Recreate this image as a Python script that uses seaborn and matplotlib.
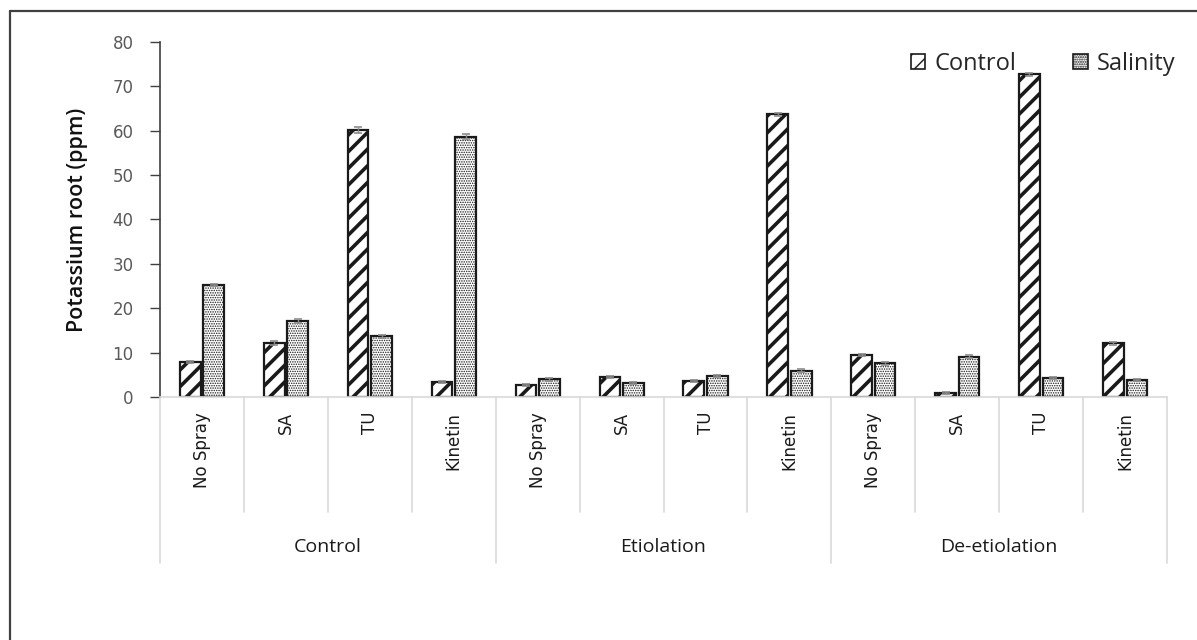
import numpy as np
import pandas as pd
import matplotlib
matplotlib.use('Agg')
import matplotlib.pyplot as plt
from matplotlib.patches import Patch
from matplotlib.lines import Line2D
import seaborn as sns

# data
groups = ['Control', 'Etiolation', 'De-etiolation']
treatments = ['No Spray', 'SA', 'TU', 'Kinetin']
control_vals = [7.9, 12.2, 60.2, 3.4, 2.7, 4.5, 3.6, 63.7, 9.5, 0.9, 72.7, 12.1]
salinity_vals = [25.2, 17.1, 13.7, 58.7, 4.0, 3.1, 4.7, 5.9, 7.6, 9.1, 4.3, 3.8]
control_err = [0.3, 0.4, 0.7, 0.3, 0.2, 0.3, 0.3, 0.3, 0.3, 0.2, 0.4, 0.3]
salinity_err = [0.3, 0.5, 0.3, 0.6, 0.3, 0.2, 0.3, 0.3, 0.3, 0.3, 0.3, 0.3]

keys = [g + '|' + t for g in groups for t in treatments]
df = pd.DataFrame({
    'key': keys * 2,
    'salt': ['Control'] * 12 + ['Salinity'] * 12,
    'value': control_vals + salinity_vals,
})

sns.set_style('white')
plt.rcParams['font.family'] = ['DejaVu Sans']

fig = plt.figure(figsize=(11.97, 6.4), dpi=100)
ax = fig.add_axes([0.1337, 0.3797, 0.8413, 0.5547])

sns.barplot(data=df, x='key', y='value', hue='salt', order=keys,
            hue_order=['Control', 'Salinity'], palette=['white', 'white'],
            width=0.56, gap=0.12, errorbar=None, legend=False, ax=ax,
            edgecolor='#1a1a1a', linewidth=1.6)

hatches = ['//', '.......']
hlw = [2.6, 0.7]
errs = [control_err, salinity_err]
for cont, h, lw, err in zip(ax.containers, hatches, hlw, errs):
    xs, ys = [], []
    for p in cont.patches:
        p.set_hatch(h)
        if hasattr(p, 'set_hatch_linewidth'):
            p.set_hatch_linewidth(lw)
        xs.append(p.get_x() + p.get_width() / 2)
        ys.append(p.get_height())
    ax.errorbar(xs, ys, yerr=err, fmt='none', ecolor='#8c8c8c',
                elinewidth=1, capsize=3, capthick=1.2, zorder=5)

ax.set_ylim(0, 80)
ax.set_yticks(range(0, 81, 10))
ax.tick_params(axis='y', labelcolor='#595959', labelsize=12, length=7,
               width=1, direction='out', left=True, pad=12, color='#404040')
ax.set_xlim(-0.5, 11.5)
ax.set_xticks([])
ax.set_xlabel('')
ax.set_ylabel('Potassium root (ppm)', fontsize=15.5, family='Open Sans',
              fontweight='semibold', color='#111111', labelpad=18)

for s in ['top', 'right']:
    ax.spines[s].set_visible(False)
ax.spines['left'].set_color('#404040')
ax.spines['left'].set_linewidth(1.2)
ax.spines['bottom'].set_color('#d9d9d9')
ax.spines['bottom'].set_linewidth(1.2)

# two-level category axis
tr = ax.get_xaxis_transform()
for i, k in enumerate(keys):
    ax.text(i, -0.042, k.split('|')[1], transform=tr, rotation=90,
            ha='center', va='top', fontsize=12, color='#1a1a1a')
for i in range(13):
    low = -0.468 if i % 4 == 0 else -0.324
    ax.plot([i - 0.5, i - 0.5], [0, low], transform=tr, color='#d9d9d9',
            lw=1.2, clip_on=False)
for j, g in enumerate(groups):
    ax.text(j * 4 + 1.5, -0.422, g, transform=tr, ha='center', va='center',
            fontsize=14, family='Open Sans', color='#1a1a1a')

handles = [Patch(facecolor='white', edgecolor='#1a1a1a', hatch='//', lw=1.2),
           Patch(facecolor='white', edgecolor='#1a1a1a', hatch='.......', lw=1.2)]
ax.legend(handles, ['Control', 'Salinity'], loc='upper right',
          bbox_to_anchor=(0.99, 0.934), bbox_transform=fig.transFigure,
          ncol=2, frameon=False, handlelength=0.6, handleheight=0.6,
          handletextpad=0.4, columnspacing=2.4, borderaxespad=0,
          prop={'family': 'Open Sans', 'size': 17})

# outer chart border (top and left visible)
fig.add_artist(Line2D([9.5 / 1197, 1.0], [1 - 10.5 / 640, 1 - 10.5 / 640],
                      transform=fig.transFigure, color='#404040', lw=1.6))
fig.add_artist(Line2D([9.5 / 1197, 9.5 / 1197], [0, 1 - 10.5 / 640],
                      transform=fig.transFigure, color='#404040', lw=1.6))

fig.savefig('out.png', dpi=100, facecolor='white')
